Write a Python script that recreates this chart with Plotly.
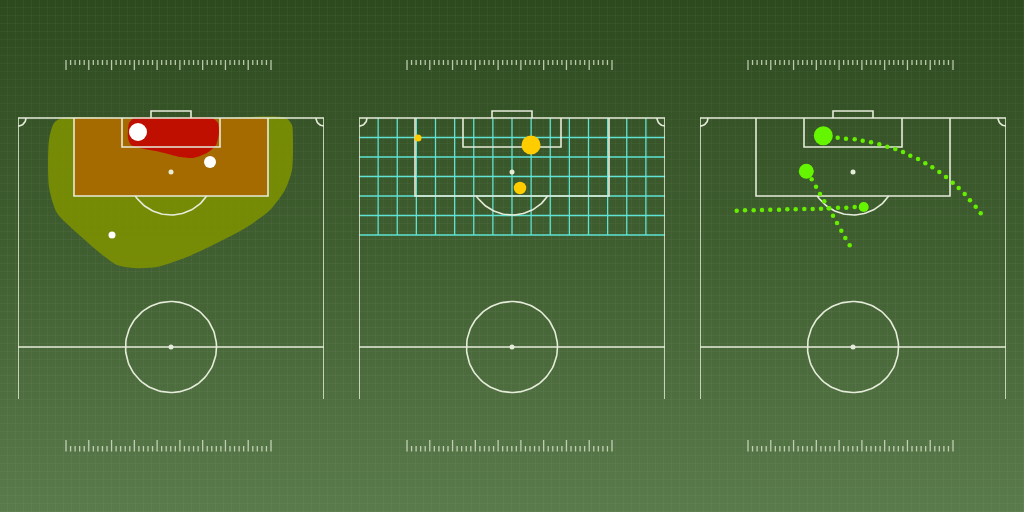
import base64
import numpy as np
import plotly.graph_objects as go

# ---------------- layout constants (pixels) ----------------
FIG_W, FIG_H = 1024, 512
PITCH_LEFT = [18, 359, 700]      # left sideline of each half pitch
PITCH_W = 306                    # pitch width in drawing units (1 unit = 1 px)
GOAL_Y = 118                     # goal line, px from the top

# ---------------- data (pitch units: x across, y down from goal line) ----------------
# Panel 1: density zones + shots
zone_outer_x = [44, 36, 31, 31, 39, 59, 82, 99, 115, 139, 169, 199, 229, 252, 267, 274, 275, 274, 268, 200, 120, 44]
zone_outer_y = [0, 5, 22, 69, 95, 115, 135, 147, 150, 149, 139, 125, 109, 92, 72, 52, 22, 7, 0, 0, 0, 0]
zone_mid_x = [56, 250, 250, 56, 56]
zone_mid_y = [0, 0, 78, 78, 0]
zone_peak_x = [116, 111, 110, 113, 122, 142, 162, 175, 189, 198, 201, 200, 194, 150, 116]
zone_peak_y = [0, 5, 20, 27, 30, 34, 39, 40, 35, 27, 15, 5, 0, 0, 0]

shots1_x = [120, 192, 94]
shots1_y = [14, 44, 117]
shots1_size = [18, 12, 7]

# Panel 2: grid zones + shots
grid_cols = 16
grid_rows = 6
grid_row_h = 19.5
shots2_x = [59, 172, 161]
shots2_y = [20, 27, 70]
shots2_size = [7, 19, 12.5]

# Panel 3: ball paths ending in shots
path_a_x = [280.7, 275.7, 270.0, 264.7, 258.7, 252.7, 246.0, 239.3, 232.3, 225.3, 218.0,
            210.3, 203.0, 195.3, 187.3, 179.3, 171.0, 162.7, 154.7, 146.0, 137.7]
path_a_y = [95.3, 88.7, 82.3, 76.0, 70.0, 64.7, 59.0, 54.0, 49.3, 45.3, 41.0,
            37.7, 34.0, 31.0, 28.7, 26.3, 24.3, 22.7, 21.3, 20.7, 19.7]
path_b_x = [149.7, 145.3, 141.3, 137.0, 133.0, 128.7, 124.3, 120.0, 116.0, 111.7]
path_b_y = [127.3, 120.0, 112.7, 105.0, 97.7, 90.3, 83.3, 76.0, 68.7, 61.3]
path_c_x = [36.7, 45.0, 53.7, 62.0, 70.3, 79.0, 87.3, 95.7, 104.3, 112.7, 121.0, 129.3, 138.0, 146.3, 154.7]
path_c_y = [92.7, 92.3, 92.3, 92.0, 91.7, 91.7, 91.3, 91.3, 91.0, 91.0, 90.7, 90.3, 89.7, 89.7, 89.0]
shots3_x = [123.3, 106.3, 163.7]
shots3_y = [17.7, 53.3, 89.0]
shots3_size = [19, 15, 10]

# ---------------- styles ----------------
LINE = "#e6ecda"
LW = 1.6
RULER = "rgba(220,230,205,0.8)"

fig = go.Figure()

def xa(i):
    return "x" if i == 0 else f"x{i+1}"

def add_line(i, xs, ys, color=LINE, width=LW):
    fig.add_trace(go.Scatter(x=xs, y=ys, xaxis=xa(i), yaxis="y", mode="lines",
                             line=dict(color=color, width=width), hoverinfo="skip",
                             showlegend=False))

def arc(cx, cy, r, a0, a1, n=60):
    t = np.linspace(a0, a1, n)
    return list(cx + r * np.cos(t)), list(cy + r * np.sin(t))

def draw_pitch(i):
    xs, ys = [], []
    def seg(px, py):
        xs.extend(list(px) + [None]); ys.extend(list(py) + [None])
    W = PITCH_W
    seg([0, 0, W, W], [281, 0, 0, 281])            # sidelines + goal line
    seg([0, W], [229, 229])                        # halfway line
    seg([56, 56, 250, 250], [0, 78, 78, 0])        # penalty area
    seg([104, 104, 202, 202], [0, 29, 29, 0])      # six-yard box
    seg([133, 133, 173, 173], [0, -7, -7, 0])      # goal
    cx, cy = arc(W / 2, 229, 45.5, 0, 2 * np.pi, 120); seg(cx, cy)
    a = np.arcsin(24 / 43)
    px, py = arc(W / 2, 54, 43, a, np.pi - a, 50); seg(px, py)
    kx, ky = arc(0, 0, 8, 0, np.pi / 2, 20); seg(kx, ky)
    kx, ky = arc(W, 0, 8, np.pi / 2, np.pi, 20); seg(kx, ky)
    add_line(i, xs, ys)
    fig.add_trace(go.Scatter(x=[W / 2, W / 2], y=[54, 229], xaxis=xa(i), yaxis="y",
                             mode="markers", marker=dict(color=LINE, size=5, opacity=1),
                             hoverinfo="skip", showlegend=False))

def draw_rulers(i):
    x0, step, n = 48, 205 / 45, 45
    xs, ys, xb, yb = [], [], [], []
    for k in range(n + 1):
        x = x0 + k * step
        major = (k % 5 == 0)
        xs += [x, x, None]; ys += [-58, -48 if major else -53, None]
        xb += [x, x, None]; yb += [333.5, 322 if major else 328, None]
    add_line(i, xs, ys, RULER, 1.3)
    add_line(i, xb, yb, RULER, 1.3)

# Panel 1 density
fig.add_trace(go.Scatter(x=zone_outer_x, y=zone_outer_y, xaxis="x", yaxis="y", mode="lines",
                         line=dict(width=0, shape="spline", smoothing=0.7), fill="toself",
                         fillcolor="rgba(126,146,0,0.88)", hoverinfo="skip", showlegend=False))
fig.add_trace(go.Scatter(x=zone_mid_x, y=zone_mid_y, xaxis="x", yaxis="y", mode="lines",
                         line=dict(width=0), fill="toself",
                         fillcolor="rgba(170,104,0,0.92)", hoverinfo="skip", showlegend=False))
fig.add_trace(go.Scatter(x=zone_peak_x, y=zone_peak_y, xaxis="x", yaxis="y", mode="lines",
                         line=dict(width=0, shape="spline", smoothing=0.6), fill="toself",
                         fillcolor="rgba(192,12,0,0.97)", hoverinfo="skip", showlegend=False))

# Panel 2 grid
gx, gy = [], []
cw = PITCH_W / grid_cols
for k in range(1, grid_cols):
    gx += [k * cw, k * cw, None]; gy += [0, grid_rows * grid_row_h, None]
for k in range(1, grid_rows + 1):
    gx += [0, PITCH_W, None]; gy += [k * grid_row_h, k * grid_row_h, None]
add_line(1, gx, gy, "#5fe3d4", 1.3)

for i in range(3):
    draw_pitch(i)
    draw_rulers(i)

# Shots / paths
fig.add_trace(go.Scatter(x=shots1_x, y=shots1_y, xaxis="x", yaxis="y", mode="markers",
                         marker=dict(size=shots1_size, color="#ffffff", opacity=1, line=dict(width=0)),
                         hoverinfo="skip", showlegend=False))
fig.add_trace(go.Scatter(x=shots2_x, y=shots2_y, xaxis="x2", yaxis="y", mode="markers",
                         marker=dict(size=shots2_size, color="#ffcc00", opacity=1, line=dict(width=0)),
                         hoverinfo="skip", showlegend=False))
for px, py in [(path_a_x, path_a_y), (path_b_x, path_b_y), (path_c_x, path_c_y)]:
    fig.add_trace(go.Scatter(x=px, y=py, xaxis="x3", yaxis="y", mode="markers",
                             marker=dict(size=4.5, color="#66ee00", opacity=1, line=dict(width=0)),
                             hoverinfo="skip", showlegend=False))
fig.add_trace(go.Scatter(x=shots3_x, y=shots3_y, xaxis="x3", yaxis="y", mode="markers",
                         marker=dict(size=shots3_size, color="#66f500", opacity=1, line=dict(width=0)),
                         hoverinfo="skip", showlegend=False))

# Background (gradient + fine grid texture)
svg = f'''<svg xmlns="http://www.w3.org/2000/svg" width="{FIG_W}" height="{FIG_H}">
<defs><linearGradient id="g" x1="0" y1="0" x2="0" y2="1">
<stop offset="0" stop-color="#2d4a1e"/><stop offset="0.5" stop-color="#405f31"/><stop offset="1" stop-color="#5a7b4c"/></linearGradient>
<pattern id="p" width="8" height="8" patternUnits="userSpaceOnUse">
<path d="M7.5 0V8M0 7.5H8" stroke="#ffffff" stroke-opacity="0.03" stroke-width="1" fill="none"/></pattern></defs>
<rect width="{FIG_W}" height="{FIG_H}" fill="url(#g)"/>
<rect width="{FIG_W}" height="{FIG_H}" fill="url(#p)"/></svg>'''
bg = "data:image/svg+xml;base64," + base64.b64encode(svg.encode()).decode()

axis_common = dict(visible=False, showgrid=False, zeroline=False, fixedrange=True)
layout = dict(
    width=FIG_W, height=FIG_H, margin=dict(l=0, r=0, t=0, b=0),
    paper_bgcolor="#405f31", plot_bgcolor="rgba(0,0,0,0)", showlegend=False,
    yaxis=dict(range=[FIG_H - GOAL_Y, -GOAL_Y], domain=[0, 1], **axis_common),
    images=[dict(source=bg, xref="paper", yref="paper", x=0, y=1, sizex=1, sizey=1,
                 sizing="stretch", layer="below", xanchor="left", yanchor="top")],
)
for i, left in enumerate(PITCH_LEFT):
    key = "xaxis" if i == 0 else f"xaxis{i+1}"
    layout[key] = dict(range=[0, PITCH_W], domain=[left / FIG_W, (left + PITCH_W) / FIG_W],
                       anchor="y", **axis_common)
fig.update_layout(**layout)
fig.write_html("out.html", config={"displayModeBar": False},
               post_script="document.body.style.margin='0';document.body.style.overflow='hidden';")
